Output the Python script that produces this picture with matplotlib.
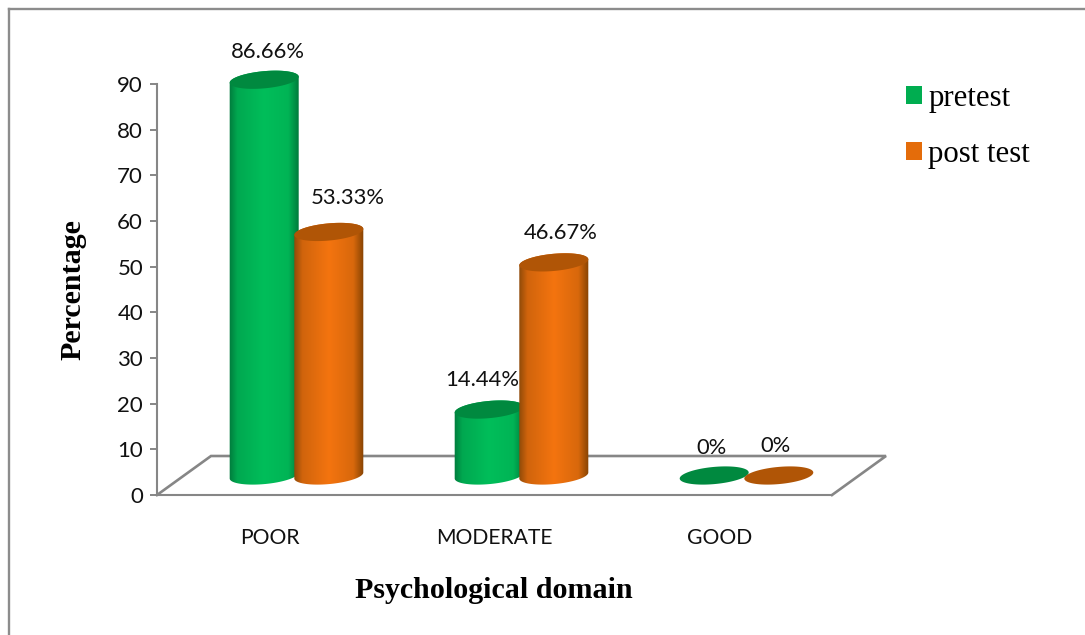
"""Grouped 3D-style cylinder chart of psychological domain scores, pretest vs post test."""

import matplotlib
matplotlib.use("Agg")
import matplotlib.pyplot as plt
import numpy as np
from matplotlib.lines import Line2D
from matplotlib.patches import Patch, Polygon
from matplotlib.path import Path
from matplotlib.transforms import ScaledTranslation

categories = ["POOR", "MODERATE", "GOOD"]
pretest = [86.66, 14.44, 0]
post_test = [53.33, 46.67, 0]
pretest_labels = ["86.66%", "14.44%", "0%"]
post_test_labels = ["53.33%", "46.67%", "0%"]
y_ticks = [0, 10, 20, 30, 40, 50, 60, 70, 80, 90]

W, H = 1085, 635
AX_LEFT, AX_RIGHT, AX_TOP, AX_BOTTOM = 157, 832, 84, 495  # pixels from the top left
PX_X = (AX_RIGHT - AX_LEFT) / 3  # pixels per category
PX_Y = (AX_BOTTOM - AX_TOP) / 90  # pixels per percent

GREY = "#868686"
GREEN_STOPS = ["#007a3c", "#00a850", "#00be5a", "#00b455", "#007a3c"]
ORANGE_STOPS = ["#8f4a08", "#d0640c", "#f4740f", "#d8680c", "#854303"]
GREEN_TOP = "#00893f"
ORANGE_TOP = "#b05506"
GREEN_KEY = "#00ad50"
ORANGE_KEY = "#e46c0a"

# label offsets from the top of each cylinder, in pixels
PRE_NUDGE = [(4, 28), (-7, 30), (-3, 27)]
POST_NUDGE = [(19, 34), (7, 29), (-3, 29)]

SERIF = "Liberation Serif"
SANS = "Lato"


def ellipse_points(cx, cy, t):
    """Sheared ellipse used for the cylinder caps, in data units."""
    a = 34.5 / PX_X
    b = 8.6 / PX_Y
    k = 3 / PX_Y
    return np.column_stack([cx + a * np.cos(t), cy + b * np.sin(t) + k * np.cos(t)])


def draw_cylinder(ax, fig, cx, value, stops, top_color, zorder):
    base = 19.5 / PX_Y
    top = base + value
    if value > 0:
        lower = ellipse_points(cx, base, np.linspace(0, -np.pi, 60))
        upper = ellipse_points(cx, top, np.linspace(np.pi, 0, 60))
        outline = np.vstack([lower, upper, lower[:1]])
        rgb = np.array([matplotlib.colors.to_rgb(c) for c in stops])
        xs = np.linspace(0, 1, 256)
        where = [0, 0.12, 0.5, 0.85, 1]
        grad = np.stack([np.interp(xs, where, rgb[:, i]) for i in range(3)], axis=1)
        half = 35 / PX_X
        margin = 14 / PX_Y  # room for the curved ends inside the image extent
        im = ax.imshow(
            grad[None, :, :],
            extent=[cx - half, cx + half, base - margin, top + margin],
            aspect="auto",
            zorder=zorder,
        )
        im.set_clip_path(Path(outline), ax.transData)
        im.set_clip_box(fig.bbox)
    cap = ellipse_points(cx, top, np.linspace(0, 2 * np.pi, 120))
    ax.add_patch(
        Polygon(cap, closed=True, facecolor=top_color, edgecolor="none",
                zorder=zorder + 0.5, clip_on=False)
    )
    return top


def draw_floor(ax):
    dx = 54 / PX_X
    dy = 39 / PX_Y
    xs = [-0.5, -0.5 + dx, 2.5 + dx, 2.5]
    ys = [0, dy, dy, 0]
    ax.plot(xs, ys, color=GREY, lw=1.9, clip_on=False, zorder=1,
            solid_joinstyle="miter")


def main():
    fig = plt.figure(figsize=(W / 100, H / 100), dpi=100)
    ax = fig.add_axes([
        AX_LEFT / W,
        1 - AX_BOTTOM / H,
        (AX_RIGHT - AX_LEFT) / W,
        (AX_BOTTOM - AX_TOP) / H,
    ])

    draw_floor(ax)

    shift = 27 / PX_X
    gap = 32.3 / PX_X
    for i in range(len(categories)):
        pre_x = i + shift - gap
        post_x = i + shift + gap
        pre_top = draw_cylinder(ax, fig, pre_x, pretest[i], GREEN_STOPS, GREEN_TOP, 2 + i * 2)
        post_top = draw_cylinder(ax, fig, post_x, post_test[i], ORANGE_STOPS, ORANGE_TOP, 3 + i * 2)
        for x, top, text, nudge in (
            (pre_x, pre_top, pretest_labels[i], PRE_NUDGE[i]),
            (post_x, post_top, post_test_labels[i], POST_NUDGE[i]),
        ):
            ax.annotate(
                text, (x, top), xytext=(nudge[0] * 0.72, nudge[1] * 0.72),
                textcoords="offset points", ha="center", va="center",
                fontsize=15.8, family=SANS, color="#111111", zorder=20,
                annotation_clip=False,
            )

    ax.set_xlim(-0.5, 2.5)
    ax.set_ylim(0, 90)
    ax.set_xticks(range(len(categories)))
    ax.set_xticklabels(categories, family=SANS, fontsize=15.2, color="#111111")
    ax.set_yticks(y_ticks)
    ax.set_yticklabels([str(v) for v in y_ticks], family=SANS, fontsize=16, color="#111111")
    # the value labels sit slightly low against their tick marks
    drop = ScaledTranslation(0, -1.5 / 100, fig.dpi_scale_trans)
    for label in ax.get_yticklabels():
        label.set_transform(label.get_transform() + drop)
    ax.tick_params(axis="x", length=0, pad=24)
    ax.tick_params(axis="y", length=5, width=1.4, color=GREY, pad=5)
    for side in ("top", "right"):
        ax.spines[side].set_visible(False)
    for side in ("left", "bottom"):
        ax.spines[side].set_color(GREY)
        ax.spines[side].set_linewidth(1.5)

    fig.text(494 / W, 1 - 591 / H, "Psychological domain", family=SERIF,
             fontweight="bold", fontsize=21.6, ha="center", va="center", color="black")
    fig.text(73 / W, 1 - 290 / H, "Percentage", family=SERIF, fontweight="bold",
             fontsize=21.6, rotation=90, ha="center", va="center", color="black")

    handles = [Patch(facecolor=GREEN_KEY), Patch(facecolor=ORANGE_KEY)]
    fig.legend(
        handles, ["pretest", "post test"], loc="upper left",
        bbox_to_anchor=(906 / W, 1 - 84 / H), frameon=False,
        prop={"family": SERIF, "size": 22.2}, handlelength=0.52, handleheight=0.52,
        handletextpad=0.2, labelspacing=0.88, borderpad=0, borderaxespad=0,
    )

    # outer chart frame: only the top and left edges fall inside the canvas
    frame = dict(color="#8c8c8c", lw=1.7, transform=fig.transFigure)
    fig.add_artist(Line2D([8.5 / W, 8.5 / W], [0, 1 - 9 / H], **frame))
    fig.add_artist(Line2D([8.5 / W, 1], [1 - 9 / H, 1 - 9 / H], **frame))

    fig.savefig("out.png", dpi=100)
    plt.close(fig)


if __name__ == "__main__":
    main()
